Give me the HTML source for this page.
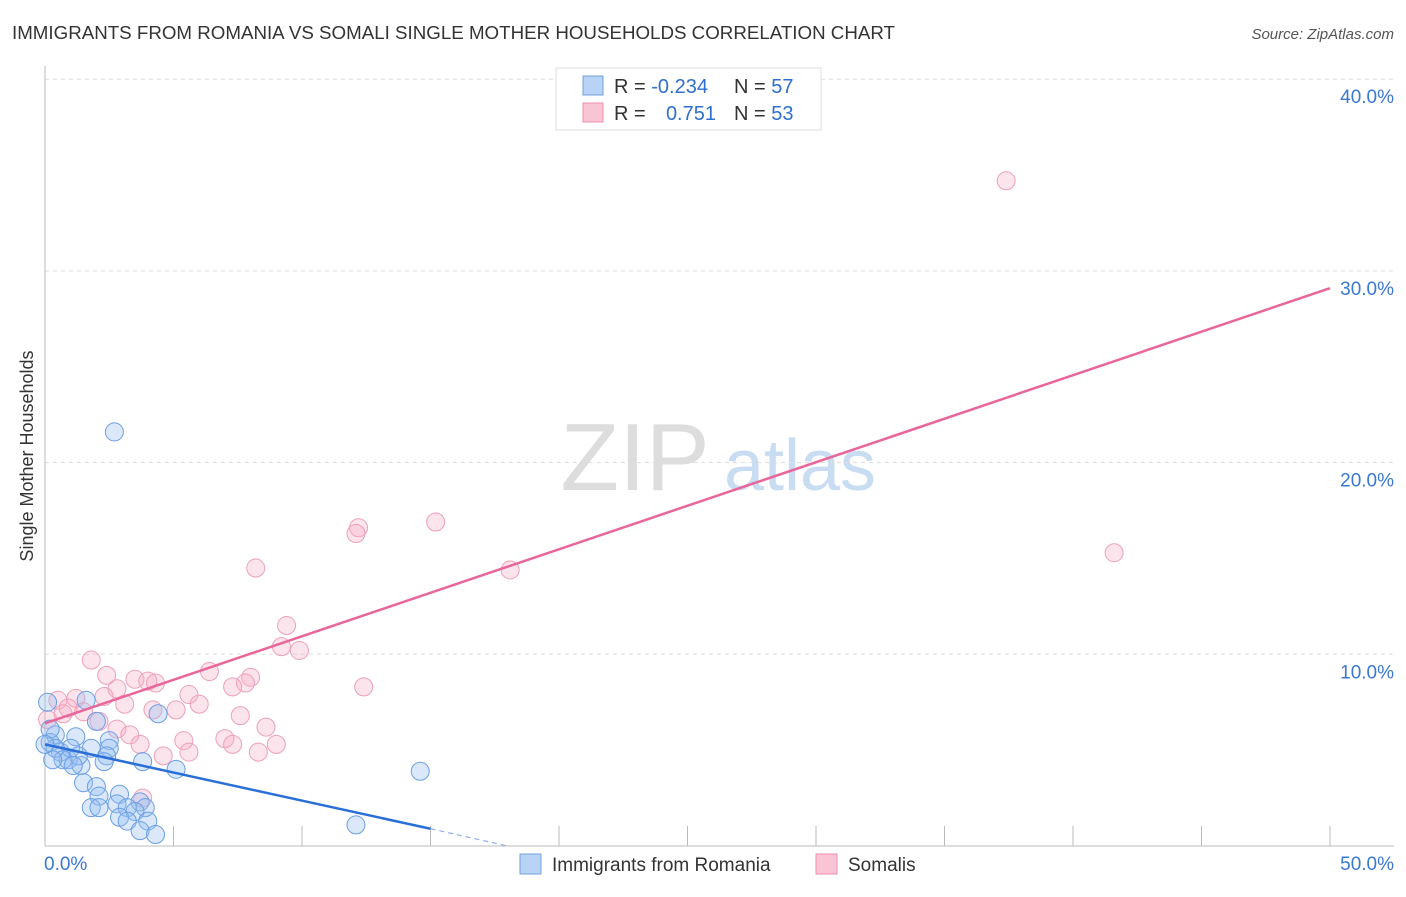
<!DOCTYPE html>
<html><head><meta charset="utf-8"><style>
body{margin:0;background:#fff;font-family:"Liberation Sans",sans-serif}
svg text{font-family:"Liberation Sans",sans-serif}
</style></head><body>
<svg id="c" width="1406" height="892">
<text x="12" y="39" font-size="18" fill="#333" textLength="883" lengthAdjust="spacingAndGlyphs">IMMIGRANTS FROM ROMANIA VS SOMALI SINGLE MOTHER HOUSEHOLDS CORRELATION CHART</text>
<text x="1394" y="39" font-size="15" fill="#555" font-style="italic" text-anchor="end">Source: ZipAtlas.com</text>
<text x="33" y="456" font-size="18" fill="#333" text-anchor="middle" transform="rotate(-90 33 456)">Single Mother Households</text>
<g><text x="635" y="490" font-size="96" fill="#ddd" font-family="Liberation Serif" text-anchor="middle">ZIP</text><text x="800" y="490" font-size="72" fill="#c8dcf2" text-anchor="middle">atlas</text></g>
<g id="grid"></g><g id="marks"></g>
<g>
<rect x="556" y="68" width="265" height="62" fill="#fff" stroke="#ddd"/>
<rect x="583" y="76" width="20" height="19" fill="#b8d3f5" stroke="#6fa0e0"/>
<rect x="583" y="103" width="20" height="19" fill="#f9c5d4" stroke="#ee8fab"/>
<text x="614" y="93" font-size="20" fill="#333">R = <tspan fill="#2f6fd0">-0.234</tspan></text>
<text x="734" y="93" font-size="20" fill="#333">N = <tspan fill="#2f6fd0">57</tspan></text>
<text x="614" y="120" font-size="20" fill="#333">R = </text><text x="716" y="120" font-size="20" fill="#2f6fd0" text-anchor="end">0.751</text>
<text x="734" y="120" font-size="20" fill="#333">N = <tspan fill="#2f6fd0">53</tspan></text>
</g>
<g>
<rect x="520" y="854" width="21" height="20" fill="#b8d3f5" stroke="#6fa0e0"/>
<text x="552" y="871" font-size="19" fill="#333">Immigrants from Romania</text>
<rect x="816" y="854" width="21" height="20" fill="#f9c5d4" stroke="#ee8fab"/>
<text x="848" y="871" font-size="19" fill="#333">Somalis</text>
</g>
</svg>
<script>
const yTicks=[10,20,30,40];
const yTickLabels=["10.0%","20.0%","30.0%","40.0%"];
const xTickLabels=["0.0%","50.0%"];
const pinkX=[37.4,41.6,15.2,12.2,12.1,8.2,18.1,9.4,9.2,9.9,1.8,6.4,2.4,3.5,4.0,4.3,8.0,7.8,7.3,12.4,2.8,5.6,1.2,2.3,0.5,6.0,3.1,4.2,5.1,1.5,0.7,0.1,7.6,2.1,2.8,8.6,3.3,7.0,5.4,3.7,7.3,9.0,4.6,5.6,8.3,3.8,0.9];
const pinkY=[34.7,15.3,16.9,16.6,16.3,14.5,14.4,11.5,10.4,10.2,9.7,9.1,8.9,8.7,8.6,8.5,8.8,8.5,8.3,8.3,8.2,7.9,7.7,7.8,7.6,7.4,7.4,7.1,7.1,7.0,6.9,6.6,6.8,6.5,6.1,6.2,5.8,5.6,5.5,5.3,5.3,5.3,4.7,4.9,4.9,2.5,7.2];
const blueX=[2.7,14.6,12.1,4.4,1.6,0.1,2.0,0.4,0.2,2.5,1.2,3.8,5.1,2.5,2.4,2.3,0.6,0.9,1.4,1.0,0.4,1.8,1.3,1.5,2.0,2.9,2.1,1.8,2.8,3.7,3.9,2.1,3.2,3.5,2.9,4.0,3.2,3.7,4.3,0.2,0.7,1.1,0.3,0.0];
const blueY=[21.6,3.9,1.1,6.9,7.6,7.5,6.5,5.8,5.4,5.5,5.7,4.4,4.0,5.1,4.7,4.4,4.9,4.5,4.2,5.1,5.1,5.1,4.7,3.3,3.1,2.7,2.6,2.0,2.2,2.3,2.0,2.0,2.0,1.8,1.5,1.3,1.3,0.8,0.6,6.1,4.5,4.2,4.5,5.3];
const pinkFit=[6.4,29.1];
const blueFit=[5.3,0.9,0.0];
const blueFitX=[0,15,18];
const NS="http://www.w3.org/2000/svg";
const X=v=>45+v*25.7, Y=v=>846-v*19.17;
const grid=document.getElementById('grid'), marks=document.getElementById('marks');
function mk(tag,attrs,parent){const e=document.createElementNS(NS,tag);for(const k in attrs)e.setAttribute(k,attrs[k]);parent.appendChild(e);return e;}
yTicks.forEach((t,i)=>{
 const l=mk('line',{x1:45,x2:1394,y1:Y(t),y2:Y(t),stroke:'#ddd','stroke-dasharray':'4 4'},grid);
 
 
 const tx=mk('text',{x:1394,y:Y(t)+24,'font-size':19,fill:'#3a78d4','text-anchor':'end'},grid);tx.textContent=yTickLabels[i];
 
 
});
const ax=mk('line',{x1:45,x2:45,y1:66,y2:846,stroke:'#bbb'},grid);


const bx=mk('line',{x1:45,x2:1394,y1:846,y2:846,stroke:'#bbb'},grid);


for(let i=1;i<=10;i++){const t=mk('line',{x1:X(i*5),x2:X(i*5),y1:826,y2:846,stroke:'#bbb'},grid);
 
 }
[[0,'start',44],[50,'end',1394]].forEach((a,i)=>{const t=mk('text',{x:a[2],y:870,'font-size':19,fill:'#3a78d4','text-anchor':a[1]},grid);t.textContent=xTickLabels[i];
 
 });
pinkX.forEach((x,i)=>{const c=mk('circle',{cx:X(x),cy:Y(pinkY[i]),r:9,fill:'rgba(246,170,195,0.32)',stroke:'#eea0b8','stroke-width':1},marks);
 
 });
blueX.forEach((x,i)=>{const c=mk('circle',{cx:X(x),cy:Y(blueY[i]),r:9,fill:'rgba(150,190,240,0.35)',stroke:'#6a9fe4','stroke-width':1},marks);
 
 });
const pl=mk('line',{x1:X(0),y1:Y(pinkFit[0]),x2:X(50),y2:Y(pinkFit[1]),stroke:'#e8669a','stroke-width':2.5},marks);


const bl=mk('line',{x1:X(blueFitX[0]),y1:Y(blueFit[0]),x2:X(blueFitX[1]),y2:Y(blueFit[1]),stroke:'#2a6fd8','stroke-width':2.5},marks);


const bd=mk('line',{x1:X(blueFitX[1]),y1:Y(blueFit[1]),x2:X(blueFitX[2]),y2:Y(blueFit[2]),stroke:'#8fb2e6','stroke-width':1.2,'stroke-dasharray':'5 4'},marks);


</script>
</body></html>
